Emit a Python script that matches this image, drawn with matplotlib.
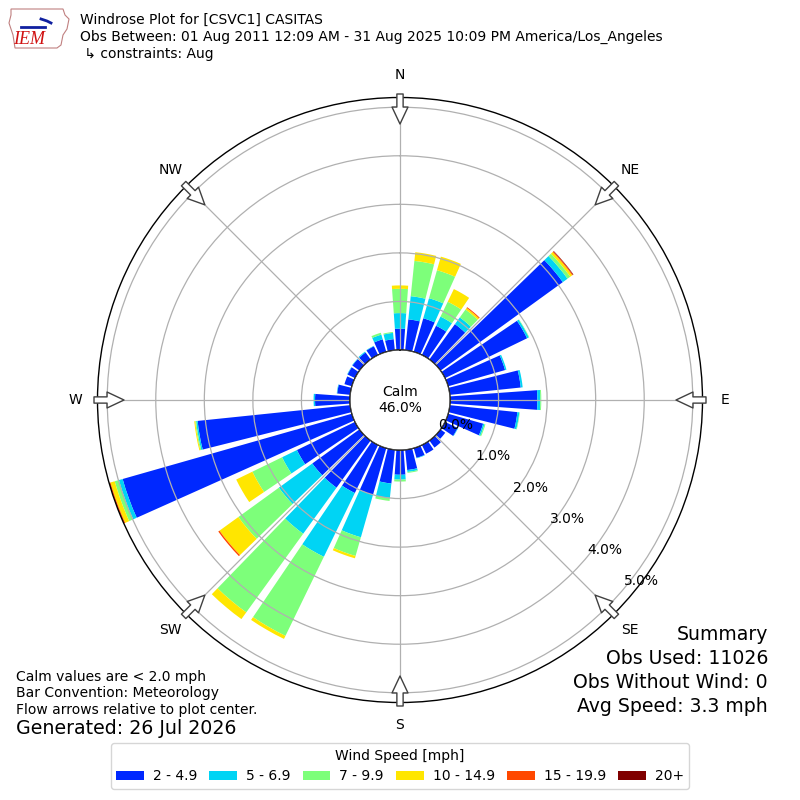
"""
Rosa de vientos para CASITAS (CSVC1), agosto 2011-2025.
"""
import numpy as np
import matplotlib
matplotlib.use('Agg')
import matplotlib.pyplot as plt
from matplotlib.patches import Circle, Patch, Polygon

# Datos (porcentaje de observaciones por dirección y clase de velocidad)
direcciones = list(range(0, 360, 10))
clases = ['2 - 4.9', '5 - 6.9', '7 - 9.9', '10 - 14.9', '15 - 19.9', '20+']
colores = ['#0028ff', '#00d4f4', '#7dff7a', '#ffe600', '#ff4800', '#800000']

v_2_5 = [0.44, 0.64, 0.72, 0.67, 0.90, 3.11, 1.88, 1.22, 1.47, 1.80, 1.40, 0.75,
         0.29, 0.12, 0.18, 0.20, 0.21, 0.42, 0.51, 0.70, 1.00, 1.10, 1.20, 1.20,
         1.33, 4.91, 3.16, 0.72, 0.27, 0.16, 0.17, 0.18, 0.18, 0.20, 0.27, 0.23]
v_5_7 = [0.32, 0.48, 0.43, 0.21, 0.17, 0.12, 0.04, 0.03, 0.04, 0.06, 0.04, 0.03,
         0.01, 0.00, 0.00, 0.00, 0.01, 0.04, 0.10, 0.30, 0.91, 1.46, 1.17, 0.85,
         0.34, 0.08, 0.03, 0.03, 0.01, 0.00, 0.01, 0.01, 0.02, 0.01, 0.10, 0.13]
v_7_10 = [0.50, 0.73, 0.60, 0.34, 0.20, 0.07, 0.01, 0.00, 0.00, 0.02, 0.01, 0.02,
          0.00, 0.00, 0.00, 0.00, 0.00, 0.02, 0.04, 0.06, 0.40, 1.81, 2.00, 1.03,
          0.68, 0.09, 0.02, 0.00, 0.00, 0.00, 0.00, 0.00, 0.00, 0.00, 0.04, 0.02]
v_10_15 = [0.07, 0.18, 0.29, 0.29, 0.04, 0.05, 0.00, 0.00, 0.00, 0.00, 0.00, 0.00,
           0.00, 0.00, 0.00, 0.00, 0.00, 0.00, 0.00, 0.00, 0.05, 0.07, 0.17, 0.48,
           0.37, 0.09, 0.02, 0.00, 0.00, 0.00, 0.00, 0.00, 0.00, 0.00, 0.00, 0.00]
v_15_20 = [0.00, 0.00, 0.00, 0.00, 0.02, 0.02, 0.00, 0.00, 0.00, 0.00, 0.00, 0.00,
           0.00, 0.00, 0.00, 0.00, 0.00, 0.00, 0.00, 0.00, 0.00, 0.00, 0.00, 0.03,
           0.00, 0.03, 0.00, 0.00, 0.00, 0.00, 0.00, 0.00, 0.00, 0.00, 0.00, 0.00]
v_20 = [0.00, 0.00, 0.00, 0.00, 0.00, 0.01, 0.00, 0.00, 0.00, 0.00, 0.00, 0.00,
        0.00, 0.00, 0.00, 0.00, 0.00, 0.00, 0.00, 0.00, 0.00, 0.00, 0.00, 0.00,
        0.00, 0.00, 0.00, 0.00, 0.00, 0.00, 0.00, 0.00, 0.00, 0.00, 0.00, 0.00]

calma = 46.0
anillos = [0, 1, 2, 3, 4, 5]
puntos_cardinales = ['N', 'NE', 'E', 'SE', 'S', 'SW', 'W', 'NW']

series = [v_2_5, v_5_7, v_7_10, v_10_15, v_15_20, v_20]

fig = plt.figure(figsize=(8, 8), dpi=100)
R = 302.5  # radio exterior en px
ax = fig.add_axes([(400 - R) / 800, (400 - R) / 800, 2 * R / 800, 2 * R / 800],
                  projection='polar')
ax.set_theta_zero_location('N')
ax.set_theta_direction(-1)

# El círculo de calma ocupa 50 px del radio total
totales = np.sum(series, axis=0)
rmax = totales.max()
frac = 50 / R
rorigen = -frac * rmax / (1 - frac)
ax.set_ylim(0, rmax)
ax.set_rorigin(rorigen)


def px_a_r(px):
    return rorigen + px / R * (rmax - rorigen)


theta = np.deg2rad(direcciones)
ancho = np.deg2rad(8.2)
base = np.zeros(len(direcciones))
for valores, color in zip(series, colores):
    ax.bar(theta, valores, width=ancho, bottom=base, color=color, linewidth=0)
    base += np.array(valores)

ax.set_xticks(np.deg2rad(np.arange(0, 360, 45)))
ax.set_xticklabels([])
ax.set_yticks(anillos)
ax.set_yticklabels([])
ax.grid(True, color='#b0b0b0', linewidth=0.9)
ax.set_axisbelow(False)
ax.spines['polar'].set_color('black')
ax.spines['polar'].set_linewidth(1.0)

# Círculo de calma
radio_calma = 0.5 * (0 - rorigen) / (rmax - rorigen)
ax.add_patch(Circle((0.5, 0.5), radio_calma, transform=ax.transAxes,
                    facecolor='white', edgecolor='black', linewidth=1.0, zorder=4))
ax.text(0.5, 0.5, f'Calm\n{calma:.1f}%', transform=ax.transAxes,
        ha='center', va='center', fontsize=10, zorder=5)

for v in anillos:
    ax.text(np.deg2rad(130), v, f'{v:.1f}%', ha='left', va='bottom',
            fontsize=10, zorder=6)

# Etiquetas y flechas de dirección
for i, nombre in enumerate(puntos_cardinales):
    ang = np.deg2rad(i * 45)
    ax.text(ang, px_a_r(325), nombre, ha='center', va='center', fontsize=10,
            clip_on=False)
    ax.annotate('', xy=(ang, px_a_r(276)), xytext=(ang, px_a_r(306)),
                arrowprops=dict(arrowstyle='simple,head_length=1.22,head_width=1.15,tail_width=0.45',
                                mutation_scale=10, fc='white', ec='#404040', lw=1,
                                shrinkA=0, shrinkB=0),
                annotation_clip=False, zorder=7)

# Encabezado
fig.text(80 / 800, 1 - 20 / 800, 'Windrose Plot for [CSVC1] CASITAS', fontsize=10, va='center')
fig.text(80 / 800, 1 - 37 / 800,
         'Obs Between: 01 Aug 2011 12:09 AM - 31 Aug 2025 10:09 PM America/Los_Angeles',
         fontsize=10, va='center')
fig.text(80 / 800, 1 - 54 / 800, ' \u21b3 constraints: Aug', fontsize=10, va='center')

# Logo IEM aproximado
logo = fig.add_axes([5 / 800, 1 - 50 / 800, 70 / 800, 45 / 800])
logo.set_xlim(0, 70)
logo.set_ylim(45, 0)
logo.axis('off')
logo.add_patch(Polygon([(6, 4), (58, 4), (60, 10), (64, 14), (62, 24), (58, 30),
                        (56, 40), (52, 43), (10, 43), (8, 30), (4, 18), (6, 10)],
                       closed=True, fill=False, edgecolor='#c08080', linewidth=0.8))
logo.plot([16, 40], [22, 22], color='#1020a0', linewidth=2)
logo.plot([36, 42, 46], [14, 16, 18], color='#1020a0', linewidth=2)
logo.text(24, 35, 'IEM', color='#d01010', fontsize=13, style='italic',
          family='Liberation Serif', ha='center', va='center')

# Notas inferiores
fig.text(16 / 800, 1 - 677 / 800, 'Calm values are < 2.0 mph', fontsize=10, va='center')
fig.text(16 / 800, 1 - 693 / 800, 'Bar Convention: Meteorology', fontsize=10, va='center')
fig.text(16 / 800, 1 - 710 / 800, 'Flow arrows relative to plot center.', fontsize=10, va='center')
fig.text(16 / 800, 1 - 729 / 800, 'Generated: 26 Jul 2026', fontsize=13.7, va='center')

resumen = ['Summary', 'Obs Used: 11026', 'Obs Without Wind: 0', 'Avg Speed: 3.3 mph']
for i, linea in enumerate(resumen):
    fig.text(768 / 800, 1 - (635 + i * 23.7) / 800, linea, fontsize=13.6,
             ha='right', va='center')

# Leyenda
manijas = [Patch(facecolor=c, edgecolor='none', label=l) for c, l in zip(colores, clases)]
fig.legend(handles=manijas, ncol=6, loc='center',
           bbox_to_anchor=(400 / 800, 1 - 766 / 800), title='Wind Speed [mph]',
           fontsize=10, title_fontsize=10,
           frameon=True, handlelength=2.0, handleheight=0.7, handletextpad=0.65,
           columnspacing=0.86, fancybox=True)

fig.savefig('out.png', dpi=100)
